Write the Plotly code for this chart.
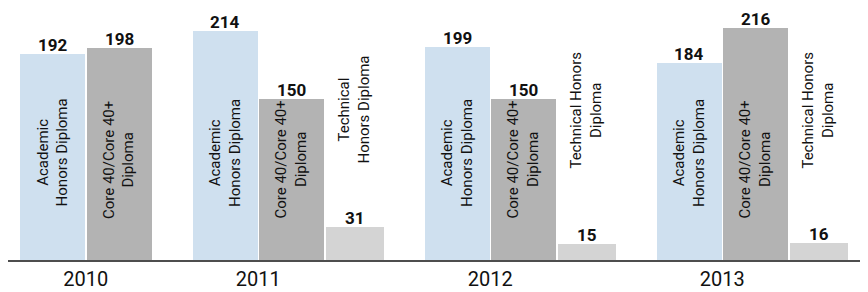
import plotly.graph_objects as go

# ---- data ----
years = ["2010", "2011", "2012", "2013"]
academic = [192, 214, 199, 184]
core = [198, 150, 150, 216]
technical = [None, 31, 15, 16]

academic_label = "Academic<br>Honors Diploma"
core_label = "Core 40/Core 40+<br>Diploma"
technical_labels = [None, "Technical<br>Honors Diploma", "Technical Honors<br>Diploma", "Technical Honors<br>Diploma"]

# ---- layout constants (page-pixel-like x units) ----
PAGE_OFFSET = 8          # browser body margin
START = 20
W_MAIN = 65
W_TECH = 58
INNER_GAP = 1.5
GROUP_GAP = 41
Y_MAX = 222

FONT = "Roboto, Liberation Sans, sans-serif"
C_ACAD = "#cfe0ef"
C_CORE = "#b3b3b3"
C_TECH = "#d4d4d4"

# compute positions
pos = {"a": [], "c": [], "t": []}
year_pos = []
cursor = START
for i, y in enumerate(years):
    xa = cursor + W_MAIN / 2
    cursor += W_MAIN + INNER_GAP
    xc = cursor + W_MAIN / 2
    cursor += W_MAIN
    pos["a"].append(xa)
    pos["c"].append(xc)
    if technical[i] is not None:
        cursor += INNER_GAP
        pos["t"].append(cursor + W_TECH / 2)
        cursor += W_TECH
    else:
        pos["t"].append(None)
    year_pos.append((xa + xc) / 2)
    cursor += GROUP_GAP

tx = [p for p, v in zip(pos["t"], technical) if v is not None]
tv = [v for v in technical if v is not None]

fig = go.Figure()
fig.add_trace(go.Bar(x=pos["a"], y=academic, width=[W_MAIN] * len(academic),
                     marker=dict(color=C_ACAD, line=dict(width=0)), name="Academic Honors Diploma"))
fig.add_trace(go.Bar(x=pos["c"], y=core, width=[W_MAIN] * len(core),
                     marker=dict(color=C_CORE, line=dict(width=0)), name="Core 40/Core 40+ Diploma"))
fig.add_trace(go.Bar(x=tx, y=tv, width=[W_TECH] * len(tv),
                     marker=dict(color=C_TECH, line=dict(width=0)), name="Technical Honors Diploma"))

ann = []
# value labels
for xs, vs in ((pos["a"], academic), (pos["c"], core), (pos["t"], technical)):
    for x, v in zip(xs, vs):
        if v is None:
            continue
        ann.append(dict(x=x, y=v, xref="x", yref="y", text=f"<b>{v}</b>", showarrow=False,
                        yanchor="bottom", yshift=-3, font=dict(family=FONT, size=17, color="#111")))
# rotated category labels
LBL = dict(family=FONT, size=15, color="#111")
for i in range(len(years)):
    ann.append(dict(x=pos["a"][i], y=0.45, xref="x", yref="paper", text=academic_label, textangle=-90,
                    showarrow=False, font=LBL))
    ann.append(dict(x=pos["c"][i], y=0.42, xref="x", yref="paper", text=core_label, textangle=-90,
                    showarrow=False, font=LBL))
    if technical[i] is not None:
        ann.append(dict(x=pos["t"][i], y=0.63, xref="x", yref="paper", text=technical_labels[i], textangle=-90,
                        showarrow=False, font=LBL))

W, H = 868 - PAGE_OFFSET, 292 - PAGE_OFFSET
fig.update_layout(
    width=W, height=H,
    margin=dict(l=0, r=0, t=22 - PAGE_OFFSET, b=32),
    paper_bgcolor="white", plot_bgcolor="white",
    showlegend=False,
    bargap=0,
    annotations=ann,
    xaxis=dict(range=[PAGE_OFFSET, 868], showgrid=False, zeroline=False, showline=True, linecolor="#4d4d4d",
               linewidth=2, tickvals=year_pos, ticktext=years, ticks="",
               tickfont=dict(family=FONT, size=20, color="#111")),
    yaxis=dict(range=[0, Y_MAX], visible=False, showgrid=False),
)
fig.write_html("out.html")
